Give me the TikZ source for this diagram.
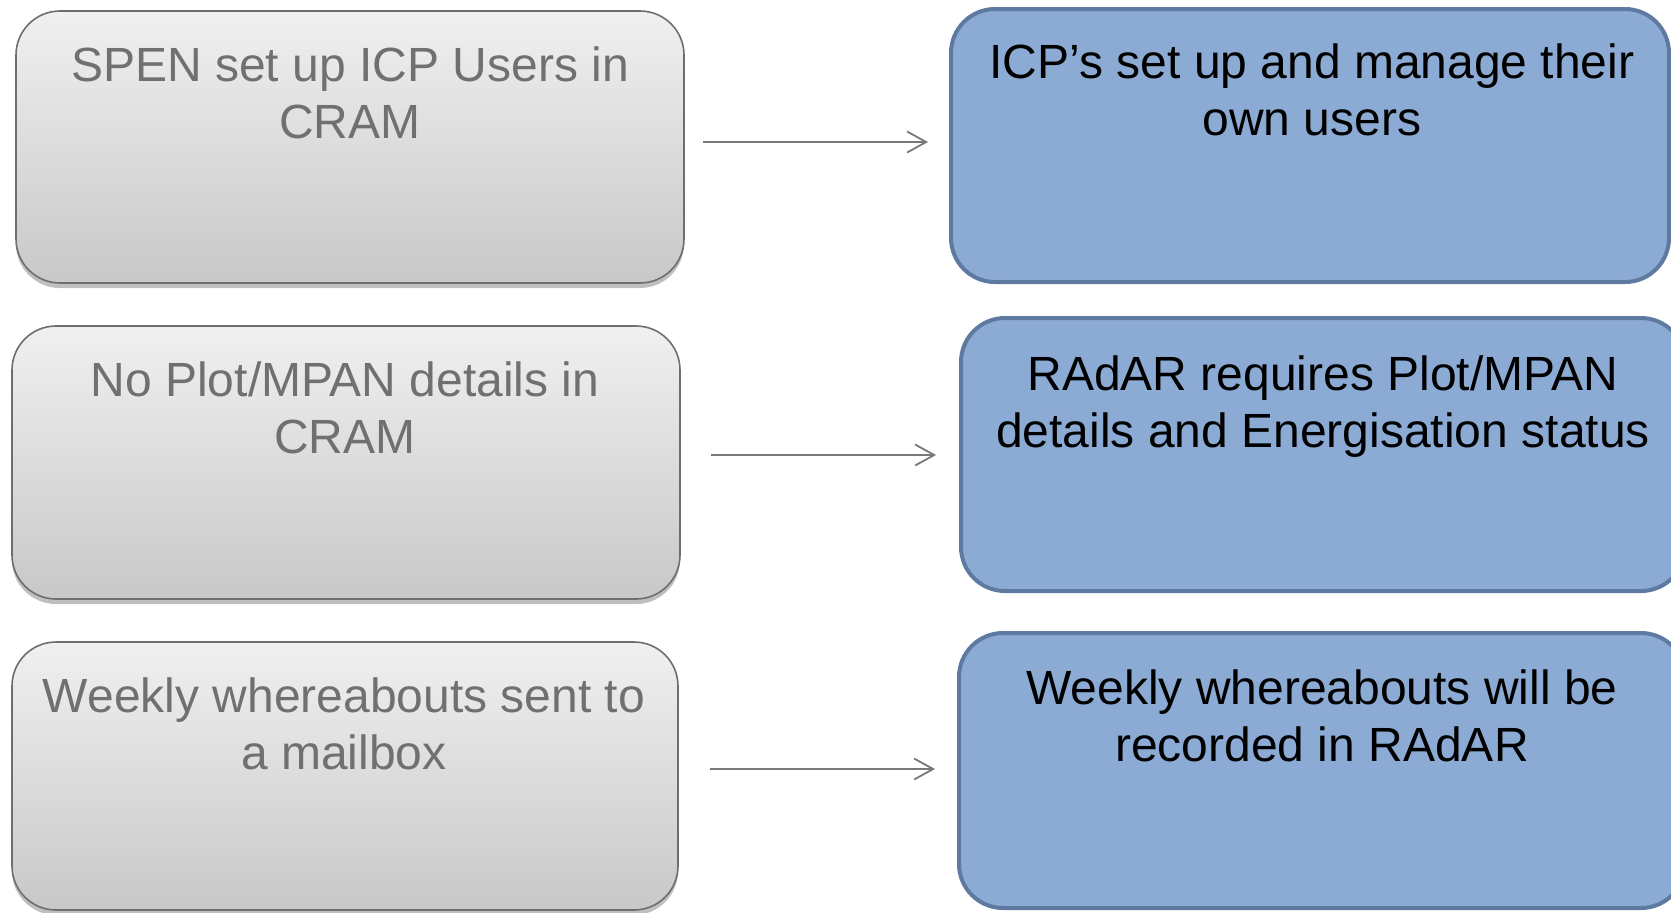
\documentclass[tikz,border=0pt]{standalone}
\usepackage{fontspec}
\setmainfont{Liberation Sans}
\usetikzlibrary{arrows.meta,calc,shadows}
\definecolor{leftText}{RGB}{112,112,112}
\definecolor{leftBorder}{RGB}{110,110,110}
\definecolor{leftTop}{RGB}{240,240,240}
\definecolor{leftBottom}{RGB}{200,200,200}
\definecolor{rightFill}{RGB}{139,170,212}
\definecolor{rightBorder}{RGB}{94,122,160}
\definecolor{connGray}{RGB}{120,120,120}
\begin{document}
\begin{tikzpicture}[x=0.5pt,y=-0.5pt,
  leftbox/.style={draw=leftBorder, line width=0.8pt, rounded corners=22pt,
    top color=leftTop, bottom color=leftBottom,
    drop shadow={shadow xshift=0pt, shadow yshift=-2.5pt, opacity=0.25, fill=black},
    inner sep=0pt},
  rightbox/.style={draw=rightBorder, line width=2pt, fill=rightFill,
    rounded corners=22pt, inner sep=0pt},
  boxtext/.style={font=\fontsize{24}{28.25}\selectfont, align=center, anchor=base, inner sep=0pt},
  lefttext/.style={boxtext, text=leftText},
  righttext/.style={boxtext, text=black},
  conn/.style={draw=connGray, line width=0.9pt, -{Straight Barb[length=9.5pt,width=10.5pt]}}
]
\useasboundingbox (0,0) rectangle (1671,912);

% left boxes
\node[leftbox, minimum width=334pt, minimum height=136pt] (l1) at (350,147) {};
\node[leftbox, minimum width=334pt, minimum height=136.5pt] (l2) at (346,462.5) {};
\node[leftbox, minimum width=333pt, minimum height=134pt] (l3) at (345,776) {};

% right boxes
\node[rightbox, minimum width=359pt, minimum height=136.5pt] (r1) at (1310,145.5) {};
\node[rightbox, minimum width=362pt, minimum height=136.5pt] (r2) at (1323,454.5) {};
\node[rightbox, minimum width=363pt, minimum height=137.5pt] (r3) at (1322,770.5) {};

% texts (anchored at the baseline of the last line)
\node[lefttext] (t1) at (350,138) {SPEN set up ICP Users in\\CRAM};
\node[lefttext] (t2) at (345,453) {No Plot/MPAN details in\\CRAM};
\node[lefttext] (t3) at (344,769) {Weekly whereabouts sent to\\a mailbox};
\node[righttext] (u1) at (1312,135) {ICP’s set up and manage their\\own users};
\node[righttext] (u2) at (1323,447) {RAdAR requires Plot/MPAN\\details and Energisation status};
\node[righttext] (u3) at (1322,761) {Weekly whereabouts will be\\recorded in RAdAR};

% connectors
\draw[conn] ($(l1.east)+(18,-5)$) -- ($(r1.west)+(-21,-3.5)$);
\draw[conn] ($(l2.east)+(30,-7.5)$) -- ($(r2.west)+(-23,0.5)$);
\draw[conn] ($(l3.east)+(31,-7)$) -- ($(r3.west)+(-22,-1.5)$);
\end{tikzpicture}
\end{document}
